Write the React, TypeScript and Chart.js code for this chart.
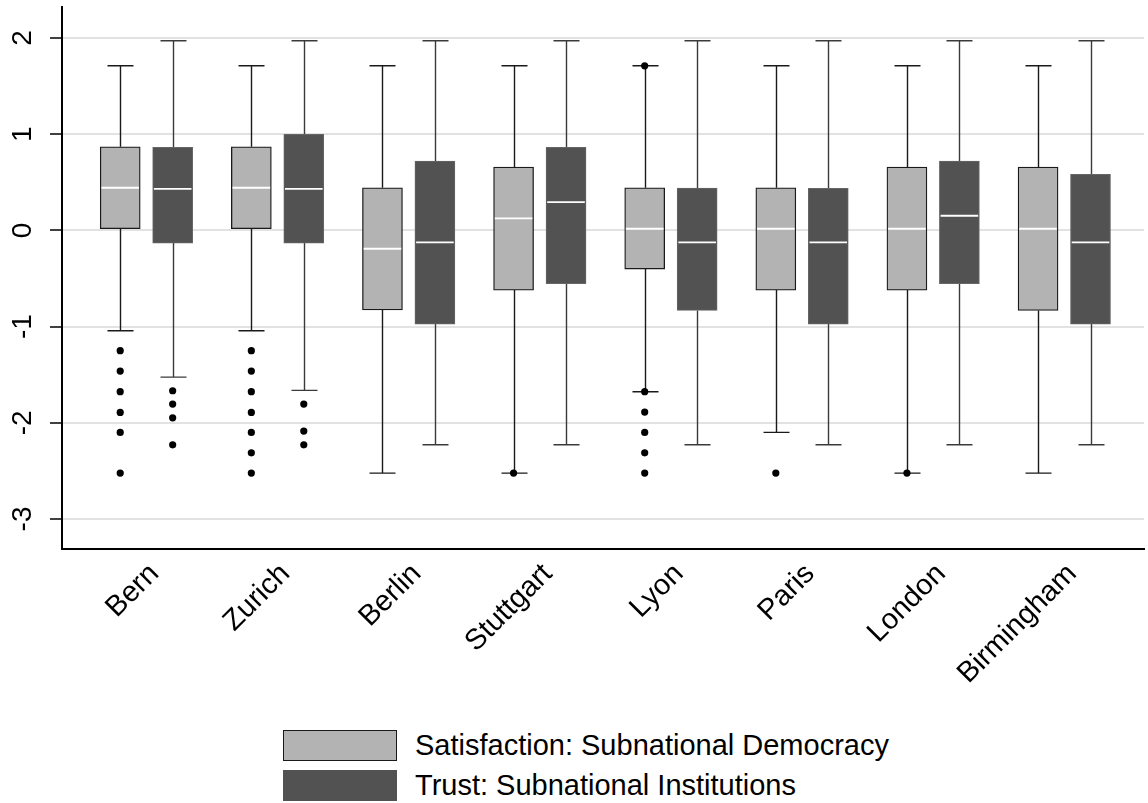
import React, { useEffect, useRef } from 'react';
import { Chart, registerables } from 'chart.js';

Chart.register(...registerables);

// ---------- data ----------
const categories = ['Bern', 'Zurich', 'Berlin', 'Stuttgart', 'Lyon', 'Paris', 'London', 'Birmingham'];
const yTickValues = [-3, -2, -1, 0, 1, 2];

const seriesNames = ['Satisfaction: Subnational Democracy', 'Trust: Subnational Institutions'];

// Satisfaction: Subnational Democracy
const satLow = [-1.044, -1.044, -2.523, -2.523, -1.677, -2.1, -2.523, -2.523];
const satQ1 = [0.017, 0.017, -0.828, -0.621, -0.402, -0.621, -0.621, -0.832];
const satMedian = [0.443, 0.443, -0.191, 0.125, 0.017, 0.017, 0.017, 0.017];
const satQ3 = [0.869, 0.869, 0.443, 0.658, 0.443, 0.443, 0.658, 0.658];
const satHigh = [1.711, 1.711, 1.711, 1.711, 1.711, 1.711, 1.711, 1.711];
const satOutliers = [
  [-1.25, -1.463, -1.677, -1.892, -2.1, -2.523],
  [-1.25, -1.463, -1.677, -1.892, -2.1, -2.312, -2.523],
  [],
  [-2.523],
  [1.711, -1.677, -1.889, -2.1, -2.312, -2.523],
  [-2.523],
  [-2.523],
  [],
];

// Trust: Subnational Institutions
const trustLow = [-1.525, -1.663, -2.229, -2.229, -2.229, -2.229, -2.229, -2.229];
const trustQ1 = [-0.132, -0.132, -0.974, -0.553, -0.832, -0.974, -0.555, -0.974];
const trustMedian = [0.432, 0.432, -0.125, 0.294, -0.125, -0.125, 0.152, -0.125];
const trustQ3 = [0.862, 0.998, 0.72, 0.863, 0.44, 0.437, 0.72, 0.582];
const trustHigh = [1.971, 1.971, 1.971, 1.971, 1.971, 1.971, 1.971, 1.971];
const trustOutliers = [
  [-1.667, -1.806, -1.948, -2.229],
  [-1.806, -2.086, -2.229],
  [],
  [],
  [],
  [],
  [],
  [],
];

// ---------- styling ----------
const FONT = '"Liberation Sans", Arial, Helvetica, sans-serif';
const SAT_FILL = '#b3b3b3';
const TRUST_FILL = '#525252';
const SAT_OFFSET = -0.2;
const TRUST_OFFSET = 0.2;
const BOX_PX = 40;
const CAP_HALF_PX = 13;

const boxSeries = [
  { offset: SAT_OFFSET, low: satLow, q1: satQ1, med: satMedian, q3: satQ3, high: satHigh, whisker: '#1a1a1a' },
  { offset: TRUST_OFFSET, low: trustLow, q1: trustQ1, med: trustMedian, q3: trustQ3, high: trustHigh, whisker: '#3a3a3a' },
];

const boxPlugin = {
  id: 'boxWhiskers',
  beforeDatasetsDraw(chart: any) {
    const { ctx, scales } = chart;
    const xs = scales.x;
    const ys = scales.y;
    ctx.save();
    ctx.lineWidth = 1.4;
    boxSeries.forEach((s) => {
      ctx.strokeStyle = s.whisker;
      categories.forEach((_, i) => {
        const px = Math.round(xs.getPixelForValue(i + s.offset)) + 0.5;
        const yHigh = ys.getPixelForValue(s.high[i]);
        const yQ3 = ys.getPixelForValue(s.q3[i]);
        const yQ1 = ys.getPixelForValue(s.q1[i]);
        const yLow = ys.getPixelForValue(s.low[i]);
        ctx.beginPath();
        ctx.moveTo(px, yQ3);
        ctx.lineTo(px, yHigh);
        ctx.moveTo(px - CAP_HALF_PX, yHigh);
        ctx.lineTo(px + CAP_HALF_PX, yHigh);
        ctx.moveTo(px, yQ1);
        ctx.lineTo(px, yLow);
        ctx.moveTo(px - CAP_HALF_PX, yLow);
        ctx.lineTo(px + CAP_HALF_PX, yLow);
        ctx.stroke();
      });
    });
    ctx.restore();
  },
  afterDatasetsDraw(chart: any) {
    const { ctx, scales } = chart;
    const xs = scales.x;
    const ys = scales.y;
    ctx.save();
    ctx.strokeStyle = '#ffffff';
    ctx.lineWidth = 1.8;
    boxSeries.forEach((s) => {
      categories.forEach((_, i) => {
        const px = xs.getPixelForValue(i + s.offset);
        const yMed = ys.getPixelForValue(s.med[i]);
        ctx.beginPath();
        ctx.moveTo(px - BOX_PX / 2 + 1.2, yMed);
        ctx.lineTo(px + BOX_PX / 2 - 1.2, yMed);
        ctx.stroke();
      });
    });
    ctx.restore();
  },
};

export default function App() {
  const ref = useRef<HTMLCanvasElement>(null);

  useEffect(() => {
    document.body.style.margin = '0';
    document.body.style.overflow = 'hidden';
    const canvas = ref.current;
    if (!canvas) return;

    const outlierPoints: { x: number; y: number }[] = [];
    categories.forEach((_, i) => {
      satOutliers[i].forEach((v) => outlierPoints.push({ x: i + SAT_OFFSET, y: v }));
      trustOutliers[i].forEach((v) => outlierPoints.push({ x: i + TRUST_OFFSET, y: v }));
    });

    const chart = new Chart(canvas, {
      type: 'bar',
      data: {
        datasets: [
          {
            type: 'scatter',
            label: 'Outliers',
            data: outlierPoints,
            backgroundColor: '#000000',
            borderColor: '#000000',
            pointRadius: 3.6,
            pointBorderWidth: 0,
            order: 0,
          } as any,
          {
            type: 'bar',
            label: seriesNames[0],
            data: categories.map((_, i) => ({ x: i + SAT_OFFSET, y: [satQ1[i], satQ3[i]] })),
            backgroundColor: SAT_FILL,
            borderColor: '#1a1a1a',
            borderWidth: 1.3,
            borderSkipped: false,
            barThickness: BOX_PX,
            grouped: false,
            order: 1,
          } as any,
          {
            type: 'bar',
            label: seriesNames[1],
            data: categories.map((_, i) => ({ x: i + TRUST_OFFSET, y: [trustQ1[i], trustQ3[i]] })),
            backgroundColor: TRUST_FILL,
            borderColor: '#666666',
            borderWidth: 1,
            borderSkipped: false,
            barThickness: BOX_PX,
            grouped: false,
            order: 1,
          } as any,
        ],
      },
      options: {
        responsive: false,
        animation: false,
        layout: { padding: { top: 7, left: 0, right: 0, bottom: 0 } },
        plugins: {
          legend: { display: false },
          tooltip: { enabled: false },
        },
        scales: {
          x: {
            type: 'linear',
            min: -0.644,
            max: 7.608,
            offset: false,
            grid: { display: false },
            border: { display: true, color: '#000000', width: 2 },
            afterBuildTicks: (scale: any) => {
              scale.ticks = categories.map((_, i) => ({ value: i }));
            },
            afterFit: (scale: any) => {
              scale.height = 166;
              scale.paddingLeft = 0;
              scale.paddingRight = 0;
            },
            ticks: {
              autoSkip: false,
              minRotation: 45,
              maxRotation: 45,
              padding: 0,
              labelOffset: 8,
              color: '#000000',
              font: { family: FONT, size: 29 },
              callback: (v: any) => categories[Math.round(Number(v))] ?? '',
            },
          },
          y: {
            type: 'linear',
            min: -3.312,
            max: 2.322,
            afterBuildTicks: (scale: any) => {
              scale.ticks = yTickValues.map((v) => ({ value: v }));
            },
            afterFit: (scale: any) => {
              scale.width = 62;
              scale.paddingTop = 0;
              scale.paddingBottom = 0;
            },
            grid: {
              color: '#e2e2e2',
              lineWidth: 2,
              tickColor: '#000000',
              tickLength: 12,
              tickWidth: 1.5,
            },
            border: { display: true, color: '#000000', width: 2 },
            ticks: {
              minRotation: 90,
              maxRotation: 90,
              crossAlign: 'center',
              padding: 14,
              color: '#000000',
              font: { family: FONT, size: 28 },
              callback: (v: any) => String(v),
            },
          },
        },
      } as any,
      plugins: [boxPlugin],
    });

    return () => chart.destroy();
  }, []);

  const legendRow = (fill: string, border: string, text: string, top: number) => (
    <div style={{ position: 'absolute', left: 283, top, height: 31, display: 'flex', alignItems: 'center' }}>
      <div style={{ width: 114, height: 31, boxSizing: 'border-box', background: fill, border: `1px solid ${border}` }} />
      <span style={{ marginLeft: 18, fontFamily: FONT, fontSize: 29, color: '#000', whiteSpace: 'nowrap', lineHeight: '31px' }}>{text}</span>
    </div>
  );

  return (
    <div style={{ position: 'relative', width: 1148, height: 803, background: '#ffffff', overflow: 'hidden' }}>
      <canvas ref={ref} width={1148} height={715} style={{ display: 'block' }} />
      {legendRow(SAT_FILL, '#1a1a1a', seriesNames[0], 730)}
      {legendRow(TRUST_FILL, TRUST_FILL, seriesNames[1], 770)}
    </div>
  );
}
